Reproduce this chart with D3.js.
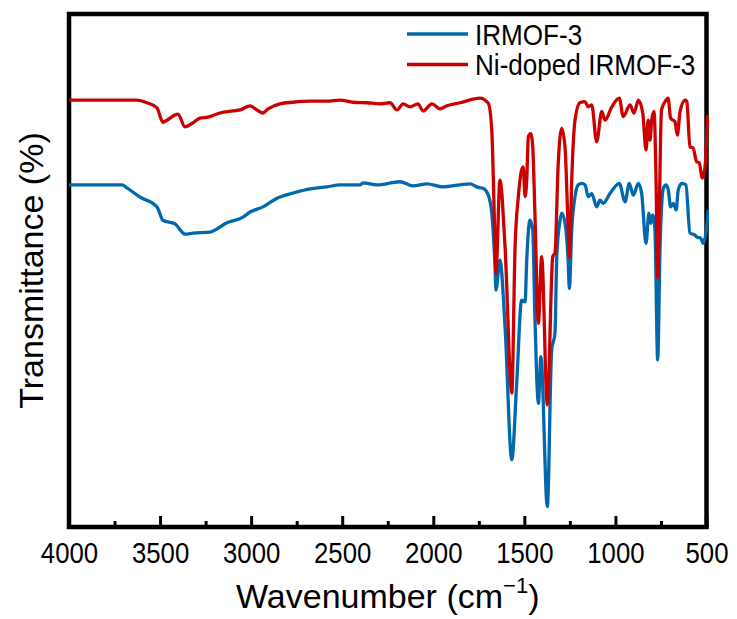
<!DOCTYPE html>
<html>
<head>
<meta charset="utf-8">
<script src="https://cdn.jsdelivr.net/npm/d3@7"></script>
<style>
  body { margin: 0; background: #fff; }
  text { font-family: "Liberation Sans", Arial, sans-serif; fill: #000; }
</style>
</head>
<body>
<div id="chart"></div>
<script>
// wavenumber (cm-1) and transmittance (arb. units)
var irmofWn = [4000, 3709, 3682, 3610, 3517, 3484, 3418, 3363, 3319, 3226, 3133, 3045, 3006, 2935, 2858, 2770, 2677, 2584, 2512, 2402, 2386, 2309, 2183, 2111, 2034, 1947, 1853, 1798, 1762, 1725, 1698, 1679, 1661, 1656, 1634, 1606, 1569, 1542, 1515, 1496, 1487, 1469, 1454, 1442, 1423, 1409, 1374, 1350, 1332, 1322, 1304, 1295, 1277, 1259, 1253, 1240, 1222, 1204, 1185, 1167, 1149, 1130, 1103, 1085, 1067, 1030, 979, 947, 924, 902, 874, 856, 832, 816, 806, 795, 783, 768, 755, 737, 722, 710, 697, 682, 667, 655, 636, 613, 591, 563, 551, 532, 518, 503, 490];
var irmofT = [66.7, 66.7, 66.1, 64.3, 62.4, 59.8, 59.1, 57.1, 57.3, 57.5, 59.3, 60.4, 61.4, 62.4, 64.1, 65.1, 65.9, 66.3, 66.7, 66.7, 67.1, 66.7, 67.3, 66.5, 66.9, 66.3, 66.7, 66.9, 66.3, 66.0, 64.7, 61.2, 50.7, 46.2, 52.0, 39.0, 13.1, 28.1, 44.2, 43.9, 52.0, 59.8, 57.9, 41.0, 24.1, 33.2, 4.0, 34.5, 37.8, 52.7, 59.8, 61.2, 59.3, 51.5, 46.5, 57.9, 64.4, 66.7, 67.0, 66.7, 64.4, 65.0, 62.4, 63.7, 63.1, 65.0, 67.0, 63.4, 67.0, 64.7, 67.0, 65.0, 55.3, 61.2, 59.2, 60.8, 57.9, 32.6, 54.6, 66.0, 66.7, 65.7, 62.4, 63.1, 61.8, 65.7, 67.0, 66.7, 57.3, 56.9, 56.5, 56.3, 55.3, 57.3, 61.8];

var niWn = [4000, 3627, 3572, 3517, 3484, 3462, 3418, 3402, 3363, 3319, 3281, 3237, 3171, 3100, 3061, 3006, 2968, 2935, 2907, 2842, 2770, 2677, 2584, 2512, 2441, 2364, 2293, 2238, 2199, 2166, 2128, 2084, 2056, 2007, 1963, 1925, 1853, 1744, 1698, 1679, 1670, 1661, 1656, 1634, 1606, 1569, 1551, 1533, 1515, 1506, 1496, 1487, 1478, 1465, 1454, 1442, 1423, 1405, 1374, 1344, 1332, 1314, 1295, 1277, 1259, 1252, 1240, 1222, 1195, 1167, 1149, 1130, 1103, 1075, 1057, 1020, 979, 957, 920, 898, 874, 850, 832, 820, 810, 801, 788, 777, 768, 747, 722, 711, 697, 673, 660, 645, 617, 608, 591, 574, 554, 540, 523, 508, 494];
var niT = [83.2, 83.2, 82.7, 81.7, 78.9, 79.3, 80.3, 80.5, 78.0, 78.8, 79.7, 79.9, 80.7, 81.1, 81.3, 82.1, 81.3, 80.7, 81.5, 82.5, 82.8, 83.0, 83.0, 83.2, 82.8, 82.7, 82.5, 82.7, 81.3, 82.5, 81.9, 82.5, 81.1, 82.5, 81.5, 82.1, 82.7, 83.6, 82.6, 77.4, 67.6, 54.6, 49.5, 67.6, 54.6, 26.1, 54.6, 64.4, 69.6, 70.2, 64.4, 67.6, 76.1, 76.7, 74.1, 61.2, 39.7, 52.7, 23.8, 52.7, 53.4, 70.9, 77.7, 74.1, 57.9, 52.6, 67.6, 79.3, 82.7, 82.9, 81.9, 82.3, 75.1, 81.0, 79.3, 81.9, 83.6, 80.0, 82.3, 80.7, 83.2, 80.7, 73.5, 79.3, 75.4, 79.3, 81.0, 67.6, 48.5, 81.3, 83.2, 83.6, 79.7, 79.0, 76.4, 81.0, 83.2, 82.9, 74.1, 73.9, 71.2, 71.0, 68.0, 70.2, 80.3];

var seriesNames = ["IRMOF-3", "Ni-doped IRMOF-3"];
var seriesColors = ["#0068ad", "#cc0000"];
var xTicks = [4000, 3500, 3000, 2500, 2000, 1500, 1000, 500];
var xMinorTicks = [3750, 3250, 2750, 2250, 1750, 1250, 750];

(function() {
  var w = 737, h = 619;
  var mLeft = 69, mRight = 706.5, mTop = 14, mBottom = 527;

  var svg = d3.select("#chart").append("svg")
    .attr("width", w).attr("height", h);

  var x = d3.scaleLinear().domain([4000, 500]).range([mLeft, mRight]);
  var y = d3.scaleLinear().domain([0, 100]).range([mBottom, mTop]);

  // inward ticks on the bottom axis
  var xAxis = d3.axisBottom(x).tickValues(xTicks).tickSize(-11).tickFormat(d3.format("d"));
  var gx = svg.append("g").attr("transform", "translate(0," + mBottom + ")").call(xAxis);
  gx.select(".domain").remove();
  gx.selectAll(".tick line").attr("stroke", "#000").attr("stroke-width", 3);
  gx.selectAll(".tick text").attr("font-size", 30).attr("dy", 0).attr("y", 36)
    .attr("transform", "scale(0.86,1)");

  var gm = svg.append("g").attr("transform", "translate(0," + mBottom + ")")
    .call(d3.axisBottom(x).tickValues(xMinorTicks).tickSize(-6).tickFormat(""));
  gm.select(".domain").remove();
  gm.selectAll(".tick line").attr("stroke", "#000").attr("stroke-width", 3);

  // frame
  svg.append("rect")
    .attr("x", mLeft).attr("y", mTop)
    .attr("width", mRight - mLeft).attr("height", mBottom - mTop)
    .attr("fill", "none").attr("stroke", "#000").attr("stroke-width", 4.5);

  // spectra sit on top of the frame, as in the original
  svg.append("clipPath").attr("id", "plotclip")
    .append("rect").attr("x", mLeft).attr("y", mTop)
    .attr("width", mRight - mLeft + 2.5).attr("height", mBottom - mTop);

  var line = d3.line()
    .x(function(d) { return x(d[0]); })
    .y(function(d) { return y(d[1]); })
    .curve(d3.curveMonotoneX);

  var series = [d3.zip(irmofWn, irmofT), d3.zip(niWn, niT)];

  svg.append("g").attr("clip-path", "url(#plotclip)")
    .selectAll("path").data(series).enter()
    .append("path")
    .attr("d", line)
    .attr("fill", "none")
    .attr("stroke", function(d, i) { return seriesColors[i]; })
    .attr("stroke-width", 3.3)
    .attr("stroke-linejoin", "round");

  // axis titles
  var xt = svg.append("text")
    .attr("x", (mLeft + mRight) / 2).attr("y", 608)
    .attr("text-anchor", "middle").attr("font-size", 34);
  xt.append("tspan").text("Wavenumber (cm");
  xt.append("tspan").text("\u22121").attr("font-size", 22).attr("dy", -15);
  xt.append("tspan").text(")").attr("dy", 15);

  svg.append("text")
    .attr("transform", "translate(43," + (mTop + mBottom) / 2 + ") rotate(-90)")
    .attr("text-anchor", "middle").attr("font-size", 34)
    .text("Transmittance (%)");

  // legend
  var legend = svg.append("g").selectAll("g").data(seriesNames).enter()
    .append("g").attr("transform", function(d, i) { return "translate(407," + (34 + i * 30.5) + ")"; });
  legend.append("line").attr("x1", 0).attr("x2", 61)
    .attr("stroke", function(d, i) { return seriesColors[i]; }).attr("stroke-width", 3.3);
  legend.append("text").attr("transform", "translate(68,10.5) scale(0.9,1)")
    .attr("font-size", 29).text(function(d) { return d; });
})();
</script>
</body>
</html>
